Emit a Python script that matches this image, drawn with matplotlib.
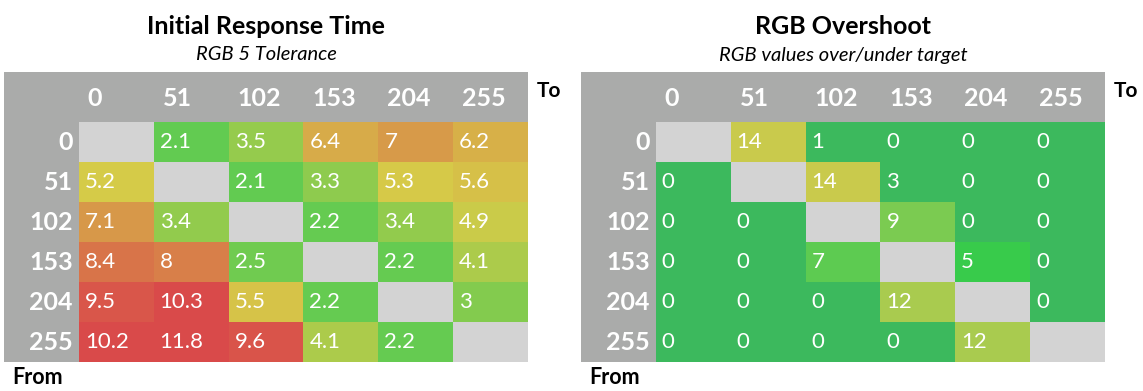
import numpy as np
import matplotlib
matplotlib.use("Agg")
import matplotlib.pyplot as plt
from matplotlib.colors import LinearSegmentedColormap

plt.rcParams['font.family'] = ['Lato', 'DejaVu Sans']

# Data
levels = ["0", "51", "102", "153", "204", "255"]

# rows = From, columns = To (diagonal is empty)
response_time = [
    [np.nan, 2.1, 3.5, 6.4, 7, 6.2],
    [5.2, np.nan, 2.1, 3.3, 5.3, 5.6],
    [7.1, 3.4, np.nan, 2.2, 3.4, 4.9],
    [8.4, 8, 2.5, np.nan, 2.2, 4.1],
    [9.5, 10.3, 5.5, 2.2, np.nan, 3],
    [10.2, 11.8, 9.6, 4.1, 2.2, np.nan],
]

overshoot = [
    [np.nan, 14, 1, 0, 0, 0],
    [0, np.nan, 14, 3, 0, 0],
    [0, 0, np.nan, 9, 0, 0],
    [0, 0, 7, np.nan, 5, 0],
    [0, 0, 0, 12, np.nan, 0],
    [0, 0, 0, 0, 12, np.nan],
]

titles = ["Initial Response Time", "RGB Overshoot"]
subtitles = ["RGB 5 Tolerance", "RGB values over/under target"]

# Colour scales
cmap_rt = LinearSegmentedColormap.from_list(
    "rt", [(0.0, "#62CB51"), (0.32, "#D6CB48"), (0.81, "#D94A4A"), (1.0, "#D94A4A")])
cmap_os = LinearSegmentedColormap.from_list(
    "os", [(0.0, "#3CB95D"), (3 / 14, "#3CB95D"), (5 / 14, "#38CB4B"), (7 / 14, "#5DCB51"),
           (9 / 14, "#7BCB51"), (12 / 14, "#A9CB4F"), (1.0, "#C9CA4C")])
for c in (cmap_rt, cmap_os):
    c.set_bad("#D3D3D3")

W, H = 1143, 391
fig = plt.figure(figsize=(W / 100, H / 100), dpi=100)

panels = [
    (response_time, cmap_rt, 2.1, 11.8, 4),
    (overshoot, cmap_os, 0, 14, 581),
]

for i, (data, cmap, vmin, vmax, x0) in enumerate(panels):
    arr = np.ma.masked_invalid(np.array(data, dtype=float))
    ax = fig.add_axes([x0 / W, 29 / H, 524 / W, 290 / H])
    ax.set_facecolor("#AAABAA")
    ax.pcolormesh(np.arange(7), np.arange(7), arr, cmap=cmap, vmin=vmin, vmax=vmax)
    ax.set_xlim(-1, 6)
    ax.set_ylim(6, -1.25)
    ax.axis("off")
    ax.add_patch(plt.Rectangle((-1, -1.25), 7, 7.25, color="#AAABAA", zorder=-1))

    for r in range(6):
        for c in range(6):
            v = data[r][c]
            if not np.isnan(v):
                ax.text(c + 0.08, r + 0.5, "{:g}".format(v), color="white",
                        fontsize=16, ha="left", va="center")
    for k, lab in enumerate(levels):
        ax.text(k + 0.12, -0.6, lab, color="white", fontsize=18, fontweight="bold",
                ha="left", va="center")
        ax.text(-0.08, k + 0.5, lab, color="white", fontsize=18, fontweight="bold",
                ha="right", va="center")

    ax.text(6.12, -0.78, "To", fontsize=15, fontweight="bold", ha="left", va="center",
            clip_on=False)
    ax.text(-0.89, 6.4, "From", fontsize=15.5, fontweight="bold", ha="left", va="center",
            clip_on=False)

    cx = (x0 + 262) / W
    fig.text(cx, 1 - 27 / H, titles[i], fontsize=18, fontweight="bold",
             ha="center", va="center")
    fig.text(cx, 1 - 55 / H, subtitles[i], fontsize=14.5, style="italic",
             ha="center", va="center")

fig.savefig("out.png", dpi=100)
